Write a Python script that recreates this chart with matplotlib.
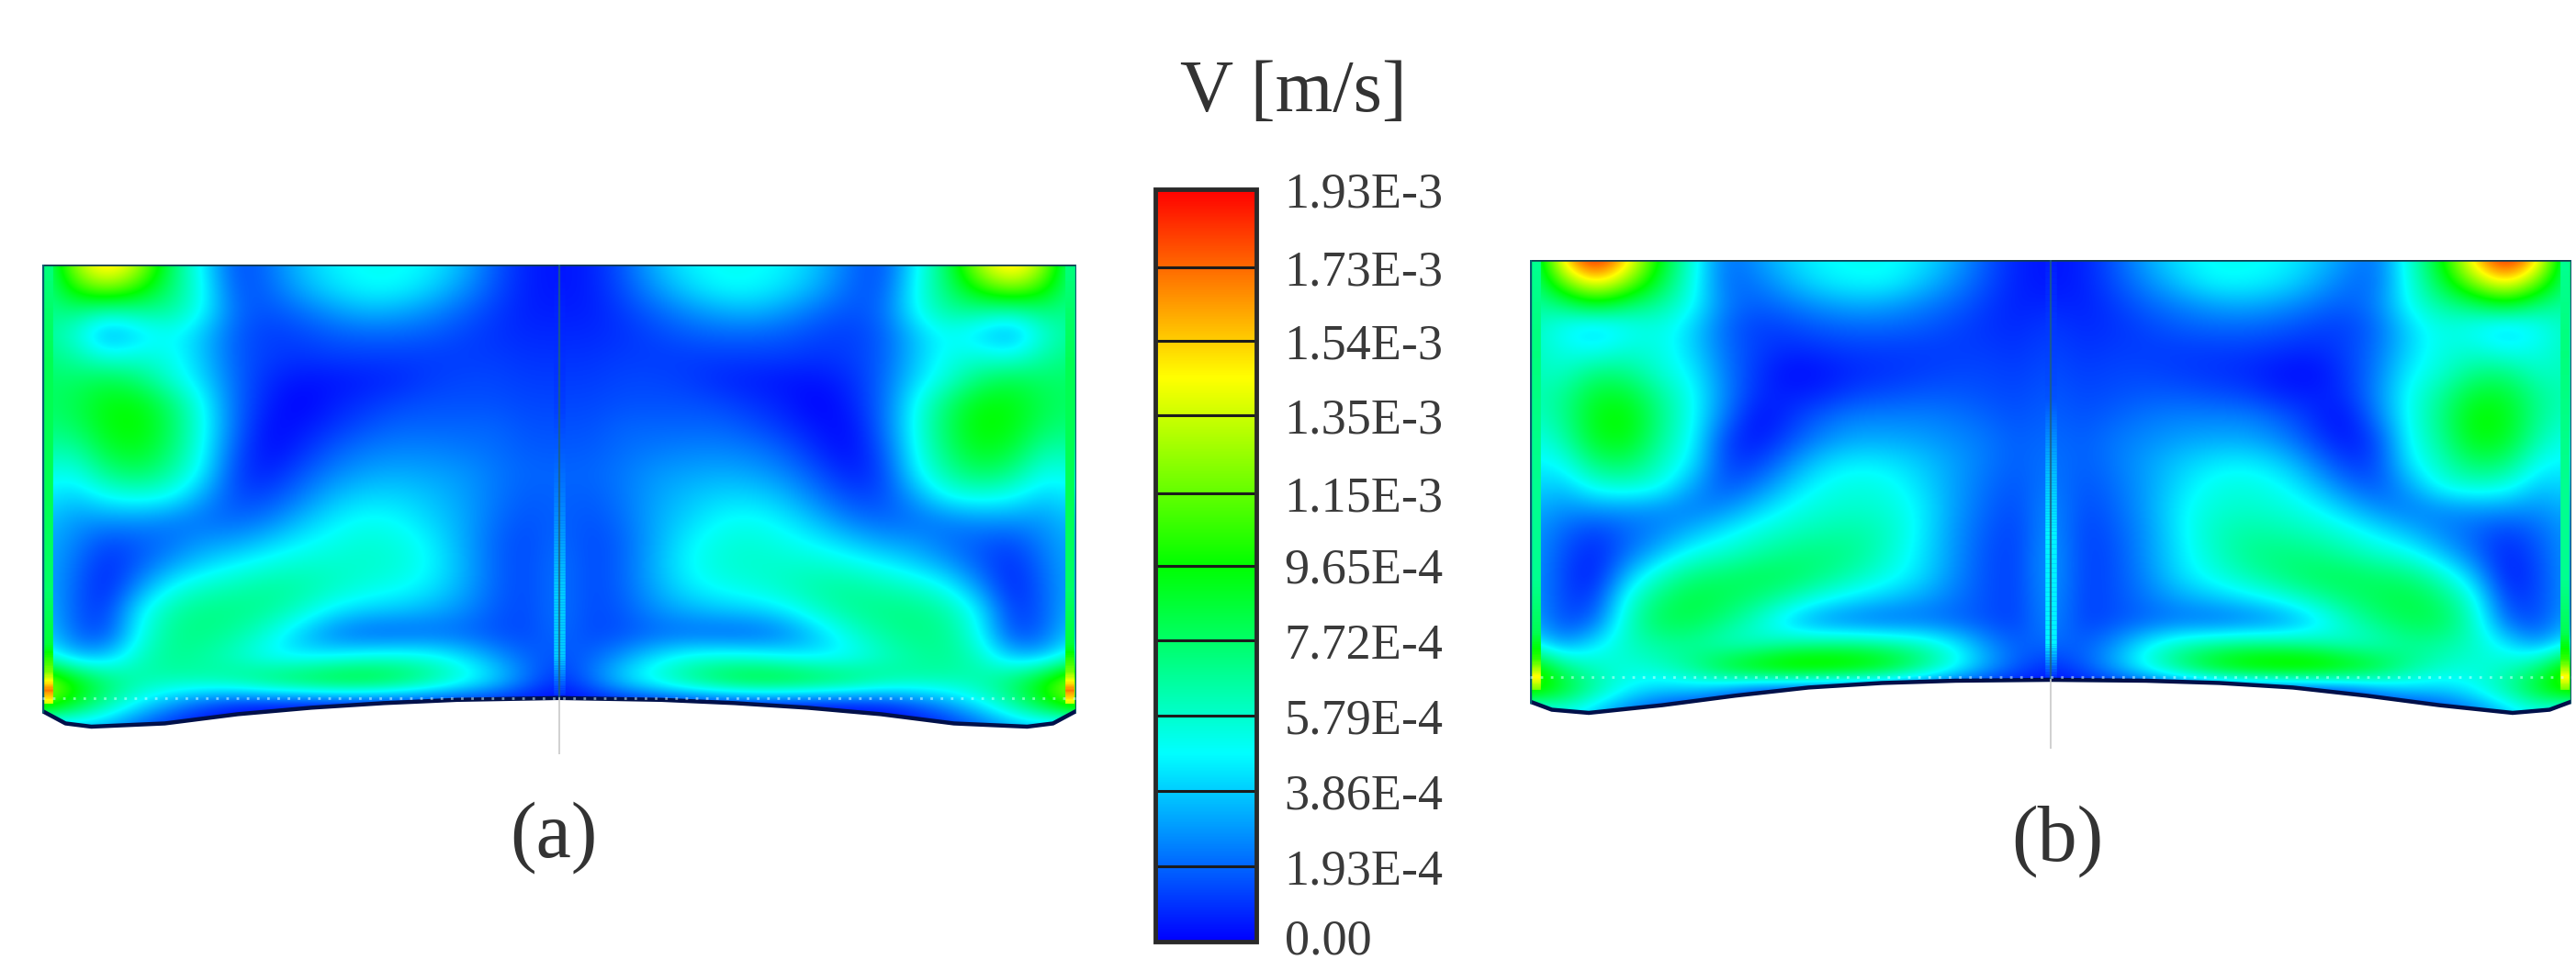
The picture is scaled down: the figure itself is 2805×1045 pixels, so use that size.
import numpy as np
import matplotlib
matplotlib.use("Agg")
import matplotlib.pyplot as plt
from matplotlib.collections import LineCollection
from matplotlib.colors import LinearSegmentedColormap, Normalize
from matplotlib.patches import PathPatch
from matplotlib.path import Path
from matplotlib.transforms import ScaledTranslation

plt.rcParams['font.family'] = ['Liberation Serif', 'DejaVu Serif']

W, H = 2805, 1045
V_MAX = 1.93e-3
level_values = [0, 1.93e-4, 3.86e-4, 5.79e-4, 7.72e-4, 9.65e-4, 1.15e-3, 1.35e-3, 1.54e-3, 1.73e-3, 1.93e-3]
level_labels = ["0.00", "1.93E-4", "3.86E-4", "5.79E-4", "7.72E-4", "9.65E-4",
                "1.15E-3", "1.35E-3", "1.54E-3", "1.73E-3", "1.93E-3"]
title_text = "V [m/s]"
panel_labels = ["(a)", "(b)"]

# speed, % of V_MAX; half of each section, wall (left) to centre plane (right)
field_a = [
 [30,66,84,68,40,23, 7,11,19,24,26,26,24,18, 9, 3, 2],
 [34,54,64,54,39,25, 8,10,17,22,25,25,21,15, 8, 3, 2],
 [36,38,32,35,35,25,10, 8,11,15,18,17,14,10, 6, 3, 3],
 [36,29,15,21,26,19, 9, 6, 7, 9,10,10, 9, 7, 5, 4, 4],
 [38,34,27,29,27,19, 9, 6, 5, 6, 6, 6, 6, 6, 6, 5, 5],
 [40,40,43,39,29,21,10, 4, 2, 2, 3, 4, 6, 7, 7, 6, 6],
 [40,42,49,49,39,25,10, 3, 0, 3, 5, 7, 8, 8, 8, 7, 7],
 [38,40,49,51,41,26,10, 1, 2, 5, 8,10,10,10,10, 8, 8],
 [34,33,45,48,39,25, 8, 1, 4, 9,12,13,13,12,11, 9, 9],
 [28,26,37,41,34,23, 6, 3, 8,13,16,17,16,15,12,10,10],
 [24,20,26,28,26,16, 7, 7,12,18,21,21,19,16,12, 9,10],
 [20,15,15,15,13,11,10,12,18,23,26,25,21,17,11, 8,10],
 [18,13, 7, 9,11,15,16,20,24,27,29,28,24,17,10, 7,11],
 [18,11, 4, 9,16,21,25,28,30,30,30,29,25,18,10, 7,12],
 [18,10, 3,15,26,31,33,35,34,31,28,26,23,17,10, 7,12],
 [20, 9, 5,24,34,37,37,35,30,23,20,19,17,14, 9, 7,12],
 [22,10, 7,26,36,37,34,28,19,12, 9, 9,10,10, 8, 7,11],
 [30,18,19,31,36,34,30,24,23,25,28,29,28,23,16,10, 8],
 [70,52,40,34,33,34,37,43,47,50,50,46,39,31,23,12, 4],
 [62,48,35,24,15, 8, 3, 1, 0, 0, 0, 0, 0, 0, 0, 0, 0],
 [12,16,15, 8, 3, 0, 0, 0, 0, 0, 0, 0, 0, 0, 0, 0, 0],
]
field_b = [
 [30,80,104,80,48,28,10,15,21,25,26,26,23,17, 9, 3, 2],
 [34,60,80,64,44,27,10,12,18,23,25,25,20,14, 8, 3, 2],
 [34,38,47,40,35,26,12, 9,12,15,17,16,13,10, 6, 3, 4],
 [32,25,20,25,28,21,10, 6, 7, 9,10,10, 9, 7, 5, 4, 6],
 [32,27,25,29,28,21,11, 6, 4, 5, 6, 6, 6, 6, 6, 5, 7],
 [32,30,38,37,29,24,12, 5, 1, 2, 4, 5, 6, 7, 7, 6, 8],
 [32,35,46,46,35,26,13, 4, 3, 4, 7, 8, 9, 9, 8, 7, 9],
 [30,35,49,51,37,26,11, 1, 5,10,13,13,13,12,10, 8,10],
 [26,32,47,49,35,25, 6, 2, 8,14,17,17,16,14,12, 9,11],
 [24,25,39,41,31,23, 6, 6,14,21,24,23,20,16,12, 9,12],
 [22,19,28,30,27,16, 8,12,20,26,28,27,22,16,11, 8,13],
 [18,14,15,15,14,12,14,20,26,29,30,29,24,16,10, 7,15],
 [16,10, 6,10,13,18,23,28,31,33,34,31,24,15, 9, 6,16],
 [16, 8, 3,11,19,27,30,34,37,38,36,30,23,15, 8, 6,17],
 [16, 7, 2,19,31,38,40,42,41,37,32,27,22,14, 8, 6,17],
 [16, 7, 5,28,39,44,42,38,32,26,22,19,16,12, 8, 6,16],
 [18, 7,10,31,42,42,37,29,19,13,11,10,11,10, 8, 6,15],
 [26,14,23,31,34,35,30,30,34,36,37,35,32,25,15, 9,11],
 [58,38,31,28,31,37,49,57,62,62,59,53,42,30,18, 9, 4],
 [60,48,35,25,20,20,14, 6, 2, 0, 0, 0, 0, 0, 0, 0, 0],
 [15,25,18,10, 5, 1, 0, 0, 0, 0, 0, 0, 0, 0, 0, 0, 0],
]
# lower edge of each section: distance from the wall (0..1 = centre) and depth (0 top .. 1 lowest)
edge_u_a = [0.0, 0.045, 0.095, 0.237, 0.378, 0.52, 0.661, 0.802, 1.0]
edge_v_a = [0.966, 0.993, 1.0, 0.993, 0.973, 0.959, 0.949, 0.942, 0.938]
edge_u_b = [0.0, 0.042, 0.113, 0.254, 0.394, 0.535, 0.676, 0.817, 1.0]
edge_v_b = [0.975, 0.993, 1.0, 0.983, 0.962, 0.944, 0.934, 0.929, 0.927]
# thin layer of fast flow along the side wall: depth, % of V_MAX
wall_v_a = [0.0, 0.2, 0.5, 0.7, 0.82, 0.88, 0.92, 0.95]
wall_p_a = [38, 42, 42, 40, 45, 62, 88, 70]
wall_v_b = [0.0, 0.2, 0.5, 0.7, 0.82, 0.88, 0.92, 0.95]
wall_p_b = [36, 38, 36, 36, 42, 55, 76, 60]
# thin layer beside the centre plane: depth, % of V_MAX
centre_v_a = [0.0, 0.3, 0.55, 0.7, 0.85, 0.93]
centre_p_a = [2, 6, 14, 20, 20, 5]
centre_v_b = [0.0, 0.3, 0.45, 0.6, 0.85, 0.92]
centre_p_b = [3, 8, 18, 24, 24, 5]

cmap = LinearSegmentedColormap.from_list("rb", ["#0000ff", "#00ffff", "#00ff00", "#ffff00", "#ff0000"], N=512)
norm = Normalize(0, V_MAX)

fig = plt.figure(figsize=(W / 100, H / 100), dpi=100, facecolor="white")


def px_axes(x0, x1, y0, y1):
    return fig.add_axes([x0 / W, 1 - y1 / H, (x1 - x0) / W, (y1 - y0) / H])


def layer(ax, x, depth, pct, lw):
    vv = np.interp(np.linspace(0, 1, 120), np.linspace(0, 1, len(depth)), depth)
    pp = np.interp(vv, depth, pct) / 100 * V_MAX
    pts = np.c_[np.full_like(vv, x), vv]
    lc = LineCollection(np.stack([pts[:-1], pts[1:]], axis=1), cmap=cmap, norm=norm, linewidths=lw)
    lc.set_array(pp[:-1])
    ax.add_collection(lc)


def draw_panel(box, field, edge_u, edge_v, wall_v, wall_p, centre_v, centre_p, dot_v, stem):
    ax = px_axes(*box)
    half = np.array(field, float) / 100 * V_MAX
    full = np.hstack([half, half[:, -2::-1]])
    nr, nc = full.shape
    dx, dy = 2 / (nc - 1), 1 / (nr - 1)
    im = ax.imshow(full, cmap=cmap, norm=norm, interpolation="bicubic", aspect="auto",
                   extent=(-dx / 2, 2 + dx / 2, 1 + dy / 2, -dy / 2))
    u = np.array(edge_u)
    v = np.array(edge_v)
    ex = np.r_[u, 2 - u[-2::-1]]
    ey = np.r_[v, v[-2::-1]]
    px = np.r_[0, ex, 2, 0]
    py = np.r_[0, ey, 0, 0]
    clip = PathPatch(Path(np.c_[px, py]), transform=ax.transData, fc="none", ec="none")
    ax.add_patch(clip)
    im.set_clip_path(clip)
    layer(ax, 0.012, wall_v, wall_p, 7)
    layer(ax, 2 - 0.012, wall_v, wall_p, 7)
    layer(ax, 1, centre_v, centre_p, 9)
    ax.plot(ex, ey, color="#00104a", lw=3.2, solid_capstyle="round")
    ax.plot([0, 2], [0, 0], color="#123a50", lw=2.6)
    ax.plot([0, 0], [0, ey[0]], color="#0a5a70", lw=2.4)
    ax.plot([2, 2], [0, ey[-1]], color="#0a5a70", lw=2.4)
    ax.plot([1, 1], [0, edge_v[-1]], color="#1f5f80", lw=1.6, alpha=0.8)
    ax.plot([1, 1], [edge_v[-1], stem], color="#c8c8c8", lw=1.2)
    ax.plot([0, 2], [dot_v, dot_v], color="#d8ffff", lw=2.0, ls=(0, (1, 3)), alpha=0.55)
    ax.set_xlim(0, 2)
    ax.set_ylim(stem, 0)
    ax.axis("off")
    return im


stem_a, stem_b = 1.06, 1.08
top_a, low_a = 288, 791
top_b, low_b = 283, 776
draw_panel((46, 1172, top_a, top_a + (low_a - top_a) * stem_a), field_a, edge_u_a, edge_v_a,
           wall_v_a, wall_p_a, centre_v_a, centre_p_a, 0.938, stem_a)
im = draw_panel((1666, 2800, top_b, top_b + (low_b - top_b) * stem_b), field_b, edge_u_b, edge_v_b,
                wall_v_b, wall_p_b, centre_v_b, centre_p_b, 0.920, stem_b)

cax = px_axes(1258, 1368, 206, 1025)
cb = fig.colorbar(im, cax=cax, ticks=level_values)
cb.ax.set_yticklabels(level_labels, fontsize=39, color="#3a3a3a")
cb.ax.tick_params(length=0, pad=22)
cb.outline.set_edgecolor("#2a2a2a")
cb.outline.set_linewidth(3.5)
cb.ax.hlines(level_values[1:-1], 0, 1, color="#1c1c1c", lw=2.2, transform=cb.ax.get_yaxis_transform())
bottom_label = cb.ax.get_yticklabels()[0]
bottom_label.set_transform(bottom_label.get_transform() + ScaledTranslation(0, 6 / 100, fig.dpi_scale_trans))

fig.text(1408 / W, 1 - 102 / H, title_text, ha="center", va="center", fontsize=58, color="#333333")
fig.text(603 / W, 1 - 912 / H, panel_labels[0], ha="center", va="center", fontsize=62, color="#333333")
fig.text(2240 / W, 1 - 916 / H, panel_labels[1], ha="center", va="center", fontsize=62, color="#333333")

fig.savefig("out.png", dpi=100, facecolor="white")
